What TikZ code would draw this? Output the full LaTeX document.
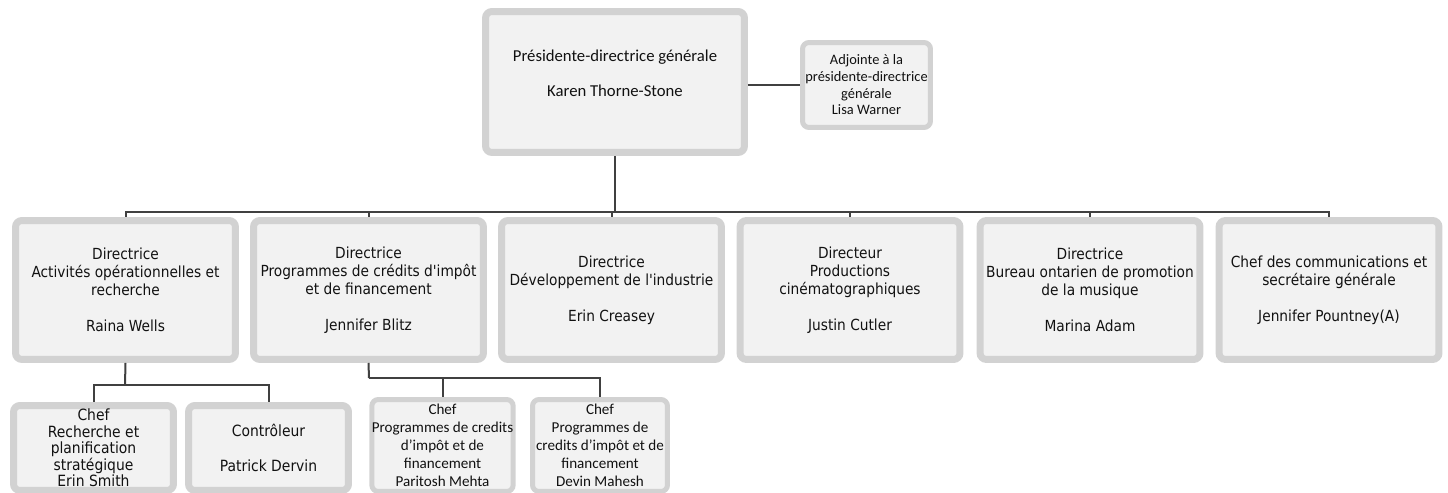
\documentclass[tikz,border=0pt]{standalone}
\usepackage{fontspec}
\setmainfont{Carlito}
\newfontfamily\tahoma{DejaVu Sans Condensed}
\definecolor{boxedge}{HTML}{D2D2D2}
\definecolor{boxfill}{HTML}{F2F2F2}
\definecolor{linkgray}{HTML}{404040}
\definecolor{txt}{HTML}{111111}
\begin{document}
\begin{tikzpicture}[x=0.02cm,y=-0.02cm,
  orgbox/.style={draw=boxedge,fill=boxfill,line width=0.14cm,rounded corners=0.13cm,
    align=center,inner sep=0pt,text=txt},
  smallbox/.style={orgbox,line width=0.1cm},
  dirbox/.style={orgbox,minimum width=4.4cm,minimum height=2.78cm,
    font=\tahoma\fontsize{8.7}{10.24}\selectfont},
  chefbox/.style={orgbox,minimum width=3.2cm,minimum height=1.7cm,
    font=\tahoma\fontsize{8.8}{9.4}\selectfont},
  prgbox/.style={smallbox,minimum height=1.84cm,
    font=\fontsize{8.6}{10.2}\selectfont},
  link/.style={draw=linkgray,line width=0.04cm}]
\useasboundingbox (0,0) rectangle (1448,493);
% top
\node[orgbox,minimum width=5.18cm,minimum height=2.82cm,font=\fontsize{9.5}{19.9}\selectfont] (pdg) at (615,82)
  {Présidente-directrice générale\\Karen Thorne-Stone\\[-10.25pt]\mbox{}};
\node[smallbox,minimum width=2.56cm,minimum height=1.7cm,font=\fontsize{8.2}{9.5}\selectfont] (adj) at (866.5,85)
  {Adjointe à la\\présidente-directrice\\générale\\Lisa Warner};
% directors
\node[dirbox] (d1) at (125.5,290) {Directrice\\Activités opérationnelles et\\recherche\\[10.24pt]Raina Wells};
\node[dirbox,minimum width=4.6cm] (d2) at (368.5,290) {Directrice\\Programmes de crédits d'impôt\\et de financement\\[10.24pt]Jennifer Blitz};
\node[dirbox] (d3) at (611.5,290) {Directrice\\Développement de l'industrie\\[10.24pt]Erin Creasey};
\node[dirbox] (d4) at (850,290) {Directeur\\Productions\\cinématographiques\\[10.24pt]Justin Cutler};
\node[dirbox] (d5) at (1090,290) {Directrice\\Bureau ontarien de promotion\\de la musique\\[10.24pt]Marina Adam};
\node[dirbox] (d6) at (1329,290) {Chef des communications et\\secrétaire générale\\[10.24pt]Jennifer Pountney(A)};
% under d1 and d2
\node[chefbox] (c1) at (93.5,448) {Chef\\Recherche et\\planification\\stratégique\\Erin Smith};
\node[chefbox,font=\tahoma\fontsize{8.8}{10}\selectfont] (c2) at (268.5,448) {Contrôleur\\[10pt]Patrick Dervin};
\node[prgbox,minimum width=2.8cm] (p1) at (442.5,445.5) {Chef\\Programmes de credits\\d’impôt et de\\financement\\Paritosh Mehta};
\node[prgbox,minimum width=2.7cm] (p2) at (600,445.5) {Chef\\Programmes de\\credits d’impôt et de\\financement\\Devin Mahesh};
% lines
\coordinate (bus) at (615,212);
\coordinate (busa) at (125,385);
\coordinate (busb) at (369,378);
\draw[link] (pdg.east |- adj.west) -- (adj.west);
\draw[link] (pdg.south) -- (bus);
\foreach \d in {d1,d2,d3,d4,d5,d6}
  \draw[link] (bus) -| (\d.north);
\draw[link] (d1.south) -- (busa);
\foreach \c in {c1,c2}
  \draw[link] (busa) -| (\c.north);
\draw[link] (d2.south) -- (busb);
\foreach \p in {p1,p2}
  \draw[link] (busb) -| (\p.north);
\end{tikzpicture}
\end{document}
